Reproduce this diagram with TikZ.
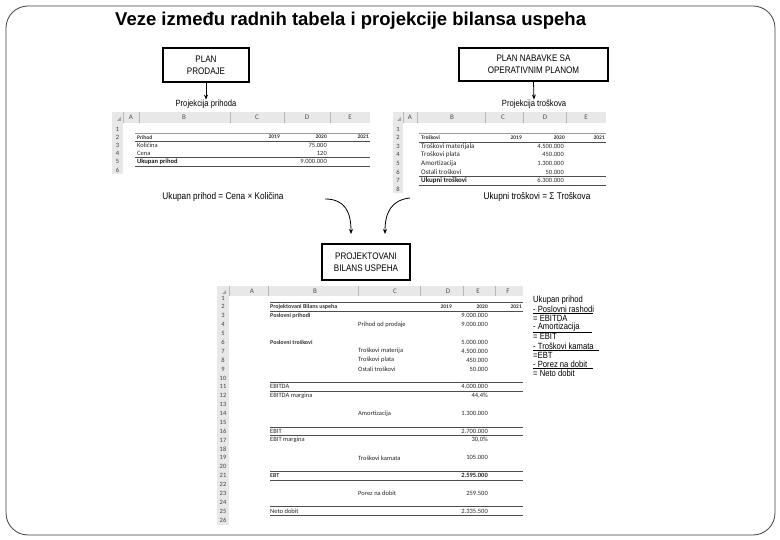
\documentclass[tikz,border=0pt]{standalone}
\usepackage{fontspec}
\setmainfont{Liberation Sans}
\newfontfamily\narrowf[FakeStretch=0.85]{Liberation Sans}
\newfontfamily\xlf{Carlito}
\usetikzlibrary{arrows.meta}
\begin{document}
\begin{tikzpicture}[x=1pt,y=-1pt,
 hdr/.style={fill=black!9},
 sep/.style={draw=black!28, line width=0.4pt},
 colhd/.style={font=\xlf\fontsize{7}{8}\selectfont, text=black!70, inner sep=0pt},
 rownum/.style={font=\xlf\fontsize{6.5}{7}\selectfont, text=black!75, inner sep=0pt},
 cl/.style={anchor=west, inner sep=0pt, font=\xlf\fontsize{6.5}{7}\selectfont, text=black!85},
 cr/.style={anchor=east, inner sep=0pt, font=\xlf\fontsize{6.5}{7}\selectfont, text=black!85},
 bl/.style={anchor=west, inner sep=0pt, font=\xlf\bfseries\fontsize{6.5}{7}\selectfont, text=black!90},
 sm/.style={anchor=east, inner sep=0pt, font=\xlf\bfseries\fontsize{5.5}{6}\selectfont, text=black!80},
 sml/.style={anchor=west, inner sep=0pt, font=\xlf\bfseries\fontsize{5.5}{6}\selectfont, text=black!80},
 rule/.style={draw=black!70, line width=0.5pt},
 thickrule/.style={draw=black!70, line width=1.1pt},
 planbox/.style={draw=black, line width=1.1pt, fill=white, align=center, font=\narrowf\fontsize{9.5}{12}\selectfont, inner sep=0pt},
 lbl/.style={font=\narrowf\fontsize{9}{10}\selectfont, inner sep=0pt},
 midlbl/.style={font=\narrowf\fontsize{9.7}{11}\selectfont, inner sep=0pt},
 rtxt/.style={anchor=west, inner sep=0pt, font=\narrowf\fontsize{9}{10}\selectfont},
 arr/.style={-{Stealth[length=5pt,width=4pt]}, line width=0.8pt},
 corner/.style={fill=black!35}
]
\useasboundingbox (0,0) rectangle (780,540);
\draw[rounded corners=22pt, line width=0.8pt, black!75] (6,6) rectangle (775,535);
\node[anchor=base west, inner sep=0pt, font=\bfseries\fontsize{18.5}{20}\selectfont] (title) at (115,26) {Veze između radnih tabela i projekcije bilansa uspeha};

% ---- boxes
\node[planbox, minimum width=86pt, minimum height=34pt] (pp) at (206,65) {PLAN\\PRODAJE};
\node[planbox, minimum width=149pt, minimum height=33pt] (pn) at (533.5,64.5) {PLAN NABAVKE SA\\OPERATIVNIM PLANOM};
\node[planbox, minimum width=88pt, minimum height=36pt] (pb) at (366,262) {PROJEKTOVANI\\BILANS USPEHA};

\node[lbl] (lp) at (206,104) {Projekcija prihoda};
\node[lbl] (lt) at (534,104) {Projekcija troškova};
\draw[arr] (pp.south) -- (lp.north);
\draw[arr] (pn.south) -- (lt.north);

% ---- left sheet
\fill[hdr] (112,112) rectangle (370,123);
\fill[hdr] (112,123) rectangle (123,174);
\foreach \x in {123,139,230,284,330} \draw[sep] (\x,112) -- (\x,123);
\fill[corner] (117,121) -- (121,121) -- (121,117) -- cycle;
\foreach \l/\x [count=\i] in {A/131,B/184,C/257,D/307,E/350} \node[colhd] (lh\i) at (\x,117.5) {\l};
\foreach \k in {1,...,6} \node[rownum] (lr\k) at (117.5,{129+(\k-1)*8.2}) {\k};
\node[sml] (lb2) at (137,137.2) {Prihod};
\node[sm] (lc2) at (280,137.2) {2019};
\node[sm] (ld2) at (327,137.2) {2020};
\node[sm] (le2) at (369,137.2) {2021};
\node[cl] (lb3) at (137,145.4) {Količina};
\node[cr] (ld3) at (327,145.4) {75.000};
\node[cl] (lb4) at (137,153.6) {Cena};
\node[cr] (ld4) at (327,153.6) {120};
\node[bl] (lb5) at (137,161.8) {Ukupan prihod};
\node[cr] (ld5) at (327,161.8) {9.000.000};
\draw[rule, black!40] (135,133.1) -- (370,133.1);
\draw[rule] (135,141.3) -- (370,141.3);
\draw[rule] (135,157.7) -- (370,157.7);
\draw[rule] (135,165.9) -- (370,165.9);

% ---- right sheet
\fill[hdr] (393,112) rectangle (606,123);
\fill[hdr] (393,123) rectangle (403,193);
\foreach \x in {403,417,485,523,566} \draw[sep] (\x,112) -- (\x,123);
\fill[corner] (397,121) -- (401,121) -- (401,117) -- cycle;
\foreach \l/\x [count=\i] in {A/410,B/452,C/503,D/545,E/586} \node[colhd] (rh\i) at (\x,117.5) {\l};
\foreach \k in {1,...,8} \node[rownum] (rr\k) at (398,{129+(\k-1)*8.6}) {\k};
\node[sml] (rb2) at (421,137.6) {Troškovi};
\node[sm] (rc2) at (522,137.6) {2019};
\node[sm] (rd2) at (565,137.6) {2020};
\node[sm] (re2) at (605,137.6) {2021};
\node[cl, font=\xlf\fontsize{7}{8}\selectfont] (rb3) at (421,146.2) {Troškovi materijala};
\node[cr] (rd3) at (564,146.2) {4.500.000};
\node[cl, font=\xlf\fontsize{7}{8}\selectfont] (rb4) at (421,154.8) {Troškovi plata};
\node[cr] (rd4) at (564,154.8) {450.000};
\node[cl, font=\xlf\fontsize{7}{8}\selectfont] (rb5) at (421,163.4) {Amortizacija};
\node[cr] (rd5) at (564,163.4) {1.300.000};
\node[cl, font=\xlf\fontsize{7}{8}\selectfont] (rb6) at (421,172) {Ostali troškovi};
\node[cr] (rd6) at (564,172) {50.000};
\node[bl, font=\xlf\bfseries\fontsize{7}{8}\selectfont] (rb7) at (421,180.6) {Ukupni troškovi};
\node[cr] (rd7) at (564,180.6) {6.300.000};
\draw[rule, black!40] (419,133.3) -- (606,133.3);
\draw[rule] (419,141.9) -- (606,141.9);
\draw[rule] (419,176.3) -- (606,176.3);
\draw[rule] (419,184.9) -- (606,184.9);

% ---- middle labels and curved arrows
\node[midlbl] (fl) at (223,197) {Ukupan prihod = Cena × Količina};
\node[midlbl] (fr) at (537,197) {Ukupni troškovi = Σ Troškova};
\coordinate (c1s) at (325,199);
\coordinate (c1e) at (351,234);
\coordinate (c2s) at (410,198);
\coordinate (c2e) at (385,234);
\draw[arr] (c1s) .. controls (345,199) and (351,212) .. (c1e);
\draw[arr] (c2s) .. controls (391,200) and (385,213) .. (c2e);

% ---- bottom sheet
\fill[hdr] (217,286) rectangle (523,296);
\fill[hdr] (217,296) rectangle (229,525);
\foreach \x in {229,268,358,420,463,495} \draw[sep] (\x,286) -- (\x,296);
\fill[corner] (222,294) -- (226,294) -- (226,290) -- cycle;
\foreach \l/\x [count=\i] in {A/252,B/315,C/395,D/448,E/478,F/508} \node[colhd] (bh\i) at (\x,291) {\l};
\foreach \k in {1,...,26} \node[rownum] (br\k) at (223,{298+(\k-1)*8.88}) {\k};
\def\ry#1{298+(#1-1)*8.88}
\node[sml, font=\xlf\bfseries\fontsize{6}{7}\selectfont] (bb2) at (270,{\ry{2}}) {Projektovani Bilans uspeha};
\node[sm] (bd2) at (452,{\ry{2}}) {2019};
\node[sm] (be2) at (488,{\ry{2}}) {2020};
\node[sm] (bf2) at (522,{\ry{2}}) {2021};
\node[sml, font=\xlf\bfseries\fontsize{6}{7}\selectfont] (bb3) at (270,{\ry{3}}) {Poslovni prihodi};
\node[cr] (be3) at (488,{\ry{3}}) {9.000.000};
\node[cl] (bc4) at (358,{\ry{4}}) {Prihod od prodaje};
\node[cr] (be4) at (488,{\ry{4}}) {9.000.000};
\node[sml, font=\xlf\bfseries\fontsize{6}{7}\selectfont] (bb6) at (270,{\ry{6}}) {Poslovni troškovi};
\node[cr] (be6) at (488,{\ry{6}}) {5.000.000};
\node[cl] (bc7) at (358,{\ry{7}}) {Troškovi materija};
\node[cr] (be7) at (488,{\ry{7}}) {4.500.000};
\node[cl] (bc8) at (358,{\ry{8}}) {Troškovi plata};
\node[cr] (be8) at (488,{\ry{8}}) {450.000};
\node[cl] (bc9) at (358,{\ry{9}}) {Ostali troškovi};
\node[cr] (be9) at (488,{\ry{9}}) {50.000};
\node[cl] (bb11) at (270,{\ry{11}}) {EBITDA};
\node[cr] (be11) at (488,{\ry{11}}) {4.000.000};
\node[cl] (bb12) at (270,{\ry{12}}) {EBITDA margina};
\node[cr] (be12) at (488,{\ry{12}}) {44,4\%};
\node[cl] (bc14) at (358,{\ry{14}}) {Amortizacija};
\node[cr] (be14) at (488,{\ry{14}}) {1.300.000};
\node[cl] (bb16) at (270,{\ry{16}}) {EBIT};
\node[cr] (be16) at (488,{\ry{16}}) {2.700.000};
\node[cl] (bb17) at (270,{\ry{17}}) {EBIT margina};
\node[cr] (be17) at (488,{\ry{17}}) {30,0\%};
\node[cl] (bc19) at (358,{\ry{19}}) {Troškovi kamata};
\node[cr] (be19) at (488,{\ry{19}}) {105.000};
\node[sml, font=\xlf\bfseries\fontsize{6}{7}\selectfont] (bb21) at (270,{\ry{21}}) {EBT};
\node[cr, font=\xlf\bfseries\fontsize{6.5}{7}\selectfont] (be21) at (488,{\ry{21}}) {2.595.000};
\node[cl] (bc23) at (358,{\ry{23}}) {Porez na dobit};
\node[cr] (be23) at (488,{\ry{23}}) {259.500};
\node[cl] (bb25) at (270,{\ry{25}}) {Neto dobit};
\node[cr] (be25) at (488,{\ry{25}}) {2.335.500};
\draw[thickrule] (270,302.4) -- (523,302.4);
\draw[rule] (270,311.3) -- (523,311.3);
\draw[rule] (270,382.4) -- (523,382.4);
\draw[thickrule] (270,391.2) -- (523,391.2);
\draw[rule] (270,426.8) -- (523,426.8);
\draw[rule] (270,435.6) -- (523,435.6);
\draw[thickrule] (270,471.2) -- (523,471.2);
\draw[rule] (270,480.0) -- (523,480.0);
\draw[rule] (270,506.7) -- (523,506.7);
\draw[rule] (270,515.6) -- (523,515.6);

% ---- right text block
\foreach \t [count=\i] in {Ukupan prihod,- Poslovni rashodi,= EBITDA,- Amortizacija,= EBIT,- Troškovi kamata,=EBT,- Porez na dobit,= Neto dobit}
  \node[rtxt] (rt\i) at (533,{300+(\i-1)*9.2}) {\t};
\foreach \i/\w in {2/60,4/59,6/66,8/60}
  \draw[line width=0.6pt] (rt\i.south west) ++(0,0.8) -- ++(\w,0);
\end{tikzpicture}
\end{document}
